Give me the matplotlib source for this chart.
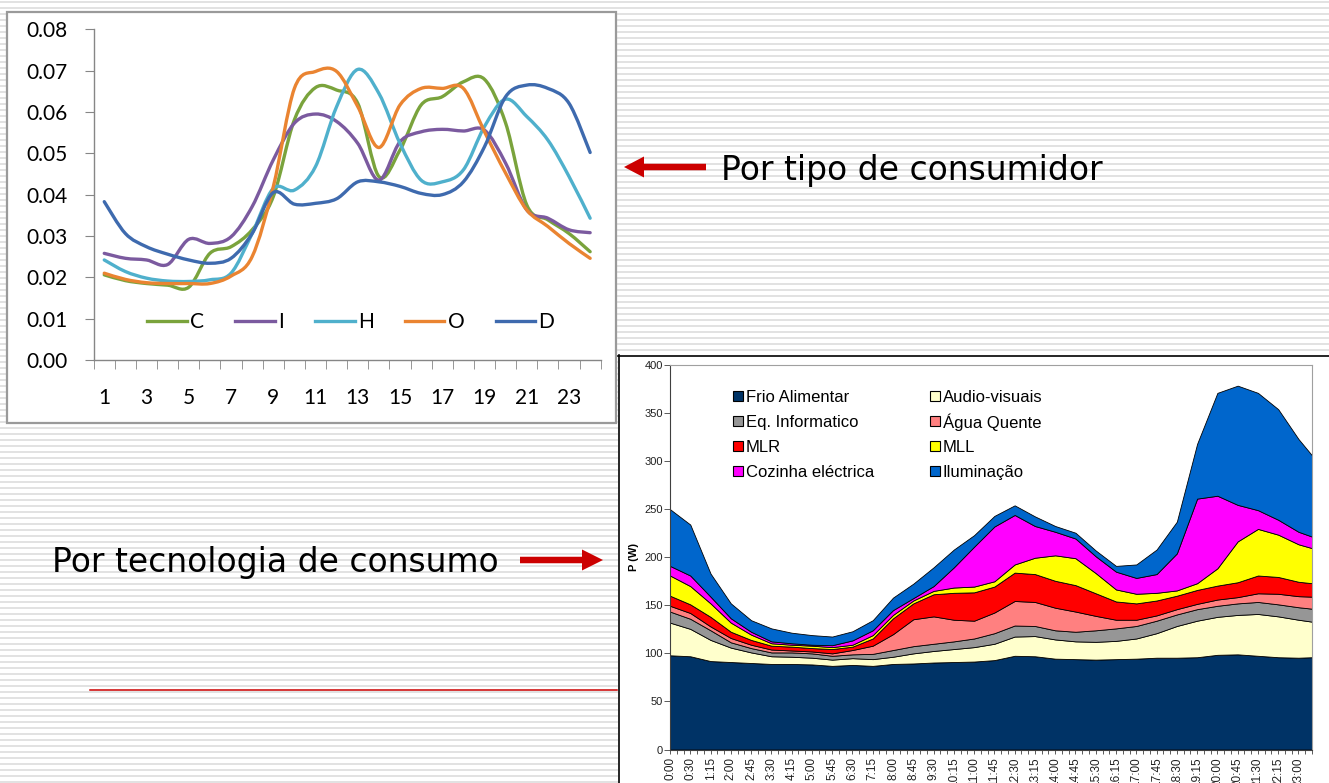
import numpy as np
import matplotlib
matplotlib.use("Agg")
import matplotlib.pyplot as plt
from matplotlib.path import Path
from matplotlib.patches import PathPatch, Rectangle, FancyArrow
from matplotlib.lines import Line2D

W, H = 1329, 783

# ---- top-left chart: profile by consumer type (hour 1..24)
hours = list(range(1, 25))
hour_ticks = list(range(1, 24, 2))
prof_C = [0.0206, 0.0192, 0.0185, 0.0181, 0.0176, 0.0258, 0.0274, 0.0315, 0.0395, 0.0581, 0.0659, 0.0653,
          0.0621, 0.0444, 0.0508, 0.0617, 0.0637, 0.0673, 0.0679, 0.0573, 0.0375, 0.0339, 0.0306, 0.0262]
prof_I = [0.0258, 0.0246, 0.0242, 0.0231, 0.0292, 0.0282, 0.0298, 0.0371, 0.0484, 0.0573, 0.0595, 0.0577,
          0.0524, 0.0435, 0.0528, 0.0552, 0.0558, 0.0554, 0.0556, 0.0476, 0.0363, 0.0343, 0.0315, 0.0308]
prof_H = [0.0242, 0.0214, 0.0198, 0.0191, 0.0190, 0.0194, 0.0210, 0.0306, 0.0415, 0.0411, 0.0468, 0.0613,
          0.0703, 0.0645, 0.0524, 0.0435, 0.0431, 0.0460, 0.0565, 0.0631, 0.0589, 0.0532, 0.0444, 0.0343]
prof_O = [0.0210, 0.0195, 0.0187, 0.0185, 0.0185, 0.0185, 0.0203, 0.0250, 0.0419, 0.0657, 0.0698, 0.0698,
          0.0613, 0.0514, 0.0617, 0.0657, 0.0657, 0.0657, 0.0552, 0.0452, 0.0363, 0.0323, 0.0282, 0.0246]
prof_D = [0.0383, 0.0306, 0.0274, 0.0256, 0.0242, 0.0234, 0.0246, 0.0306, 0.0405, 0.0377, 0.0379, 0.0390,
          0.0431, 0.0431, 0.0420, 0.0403, 0.0400, 0.0431, 0.0516, 0.0637, 0.0665, 0.0657, 0.0621, 0.0502]
prof_names = ["C", "I", "H", "O", "D"]
prof_colors = ["#7aa33c", "#7b5a9f", "#4fb0cc", "#ea8431", "#3e6aae"]

# ---- bottom-right chart: stacked power by technology (15-min slots, sampled every 3rd)
slot_idx = list(range(0, 94, 3)) + [95]
time_labels = ["0:00", "0:30", "1:15", "2:00", "2:45", "3:30", "4:15", "5:00", "5:45", "6:30", "7:15",
               "8:00", "8:45", "9:30", "10:15", "11:00", "11:45", "12:30", "13:15", "14:00", "14:45",
               "15:30", "16:15", "17:00", "17:45", "18:30", "19:15", "20:00", "20:45", "21:30", "22:15", "23:00"]
frio = [98, 97, 92, 91, 90, 89, 89, 88.5, 87, 88, 87, 89, 89.5, 90.5, 91, 91.5, 93, 97.5, 97, 94.5, 94,
        93.5, 94, 94.5, 95.5, 95.5, 96, 98.5, 99, 97.5, 96, 95.5, 96]
audio = [34, 28.5, 22, 15, 11, 8, 7.5, 7, 6.5, 7, 7, 7.5, 10.5, 12, 13.5, 15, 17, 20, 21, 20, 18.5,
         18.5, 19, 21, 25.5, 33, 38, 39.5, 41, 43.5, 42.5, 39.5, 37]
eq_info = [11.5, 10.5, 10, 5.5, 4.5, 4, 4.5, 4.5, 4, 4, 5.5, 7, 7.5, 7.5, 8, 9, 11, 11.5, 10.5, 9.5, 10,
           12, 13, 13, 13, 12, 12, 11.5, 12, 12.5, 12.5, 13, 13.5]
agua = [6, 6, 4, 4.5, 3.5, 3, 2, 2, 2.5, 4.5, 8.5, 16.5, 28, 28.5, 22.5, 18.5, 21.5, 25.5, 25, 23.5, 21,
        15, 9, 6.5, 5.5, 5.5, 5.5, 6.5, 6.5, 9, 11, 11.5, 12.5]
mlr = [10.5, 9, 10, 6.5, 5, 4, 4, 3.5, 4.5, 3.5, 7.5, 16.5, 16.5, 23, 28, 29.5, 27, 29.5, 29, 28, 27.5,
       23.5, 19, 17, 15.5, 14, 14.5, 14.5, 15.5, 18.5, 17.5, 15, 14]
mll = [21, 19, 14, 9.5, 5.5, 2.5, 2, 2.5, 2, 2, 3.5, 3.5, 3, 3.5, 5.5, 6, 5.5, 8.5, 17, 26.5, 28, 21,
       12.5, 10, 8, 5.5, 7, 18, 42.5, 48.5, 44, 39, 36.5]
cozinha = [10, 11, 7, 4.5, 3, 2, 1.5, 1, 2, 4.5, 5, 5, 2.5, 5, 21, 41.5, 57, 51.5, 33, 24.5, 20.5, 17.5,
           18.5, 16.5, 19.5, 38.5, 88, 75.5, 38, 19.5, 15.5, 13, 12]
ilum = [59, 53, 24, 15.5, 12, 13.5, 11, 10, 9, 9.5, 10.5, 13, 15, 19.5, 18.5, 12, 11, 10, 10, 6, 6, 6,
        6, 14, 25.5, 33, 57, 107, 124, 122, 115, 96.5, 84.5]
tech_names = ["Frio Alimentar", "Audio-visuais", "Eq. Informatico", "Água Quente", "MLR", "MLL",
              "Cozinha eléctrica", "Iluminação"]
tech_colors = ["#003366", "#ffffcc", "#969696", "#ff8080", "#ff0000", "#ffff00", "#ff00ff", "#0066cc"]


def smooth_path(xs, ys):
    # Catmull-Rom style bezier through the points (like Excel smoothed lines)
    pts = np.column_stack([xs, ys]).astype(float)
    verts = [pts[0]]
    codes = [Path.MOVETO]
    n = len(pts)
    for i in range(n - 1):
        p0 = pts[max(i - 1, 0)]
        p1 = pts[i]
        p2 = pts[i + 1]
        p3 = pts[min(i + 2, n - 1)]
        verts += [p1 + (p2 - p0) / 6, p2 - (p3 - p1) / 6, p2]
        codes += [Path.CURVE4] * 3
    return Path(verts, codes)


fig = plt.figure(figsize=(W / 100, H / 100), dpi=100)

###background slide (pixel coords, y downwards)
bg = fig.add_axes([0, 0, 1, 1])
bg.set_xlim(0, W)
bg.set_ylim(H, 0)
bg.axis("off")
bg.set_zorder(0)
bg.hlines(np.arange(2, H, 6), 0, W, color="#e2e2e2", lw=1.4, zorder=0.5)
bg.add_patch(Rectangle((7, 12), 609, 411, facecolor="white", edgecolor="#9a9a9a", lw=1.6, zorder=1))
bg.add_patch(Rectangle((618, 355), W - 618, H - 355, facecolor="white", edgecolor="none", zorder=1))
bg.plot([618, W], [355.5, 355.5], color="black", lw=1.2, zorder=2)
bg.plot([618.5, 618.5], [355, H], color="black", lw=1.2, zorder=2)
bg.plot([90, 617], [690, 690], color="#cc0000", lw=1.1, zorder=2)

bg.add_patch(FancyArrow(706, 167, -82, 0, width=6.5, head_width=21, head_length=20,
                        length_includes_head=True, color="#cc0000", lw=0, zorder=3))
bg.add_patch(FancyArrow(520, 560, 83, 0, width=6.5, head_width=21, head_length=21,
                        length_includes_head=True, color="#cc0000", lw=0, zorder=3))
bg.text(721, 180, "Por tipo de consumidor", fontsize=23.8, family="DejaVu Sans", va="baseline", zorder=3)
bg.text(52, 572, "Por tecnologia de consumo", fontsize=23.7, family="DejaVu Sans", va="baseline", zorder=3)

###top-left chart
ax1 = fig.add_axes([93.7 / W, 1 - 360 / H, 507 / W, 330.7 / H])
ax1.set_zorder(1)
ax1.set_facecolor("white")
profiles = [prof_C, prof_I, prof_H, prof_O, prof_D]
for vals, col in zip(profiles, prof_colors):
    ax1.add_patch(PathPatch(smooth_path(hours, vals), fill=False, edgecolor=col, lw=2.4,
                            capstyle="round", joinstyle="round"))
ax1.set_xlim(0.5, 24.5)
ax1.set_ylim(0, 0.08)
ax1.set_yticks(np.arange(0, 0.081, 0.01))
ax1.set_yticklabels([f"{v:.2f}" for v in np.arange(0, 0.081, 0.01)])
ax1.set_xticks(hour_ticks)
ax1.set_xticks(np.arange(0.5, 25, 1), minor=True)
for s in ["top", "right"]:
    ax1.spines[s].set_visible(False)
for s in ["left", "bottom"]:
    ax1.spines[s].set_color("#868686")
    ax1.spines[s].set_linewidth(1.0)
ax1.tick_params(axis="x", which="major", length=0, pad=20, labelsize=15)
ax1.tick_params(axis="x", which="minor", length=6.5, color="#868686", direction="out")
ax1.tick_params(axis="y", length=6.8, color="#868686", pad=12, labelsize=15)
for lab in ax1.get_xticklabels() + ax1.get_yticklabels():
    lab.set_family(["Lato", "DejaVu Sans"])
handles1 = [Line2D([], [], color=c, lw=2.4) for c in prof_colors]
ax1.legend(handles1, prof_names, loc="center", bbox_to_anchor=(0.507, 0.115), ncol=5,
           frameon=False, handlelength=1.9, handletextpad=0.15, columnspacing=1.5,
           prop={"family": ["Lato", "DejaVu Sans"], "size": 15})

###bottom-right chart
ax2 = fig.add_axes([670 / W, 1 - 749.5 / H, 642 / W, 384.5 / H])
ax2.set_zorder(1)
ax2.set_facecolor("white")
layers = [frio, audio, eq_info, agua, mlr, mll, cozinha, ilum]
ax2.stackplot(slot_idx, *layers, colors=tech_colors, edgecolor="black", linewidth=0.6)
ax2.set_xlim(0, 95)
ax2.set_ylim(0, 400)
ax2.set_yticks(range(0, 401, 50))
ax2.set_xticks(slot_idx[:-1])
ax2.set_xticklabels(time_labels, rotation=90, va="top", ha="center")
ax2.set_xticks(range(0, 96), minor=True)
for s in ["top", "right"]:
    ax2.spines[s].set_color("#a0a0a0")
    ax2.spines[s].set_linewidth(0.8)
for s in ["left", "bottom"]:
    ax2.spines[s].set_color("#404040")
    ax2.spines[s].set_linewidth(0.8)
ax2.tick_params(axis="x", which="both", length=3, width=0.6, color="#404040", pad=2.5,
                labelsize=8.5, labelcolor="#202020")
ax2.tick_params(axis="y", length=4, width=0.6, color="#404040", pad=1, labelsize=8,
                labelcolor="#202020")
for lab in ax2.get_xticklabels() + ax2.get_yticklabels():
    lab.set_family("Liberation Sans")
ax2.set_ylabel("P (W)", fontsize=8, fontweight="bold", family="Liberation Sans", labelpad=4)

# legend drawn as a fixed 2-column grid so the rows line up exactly
col_x = [733, 930]
row_y0, row_dy = 396, 25
for i, (name, col) in enumerate(zip(tech_names, tech_colors)):
    cx = col_x[i % 2]
    cy = row_y0 + row_dy * (i // 2)
    ax2.add_patch(Rectangle((cx, cy - 5), 9.5, 10, transform=bg.transData, facecolor=col,
                            edgecolor="black", lw=0.8, clip_on=False, zorder=5))
    ax2.text(cx + 13, cy, name, transform=bg.transData, fontsize=12, family="Liberation Sans",
             va="center_baseline", ha="left", clip_on=False, zorder=5)

fig.savefig("out.png", dpi=100)
